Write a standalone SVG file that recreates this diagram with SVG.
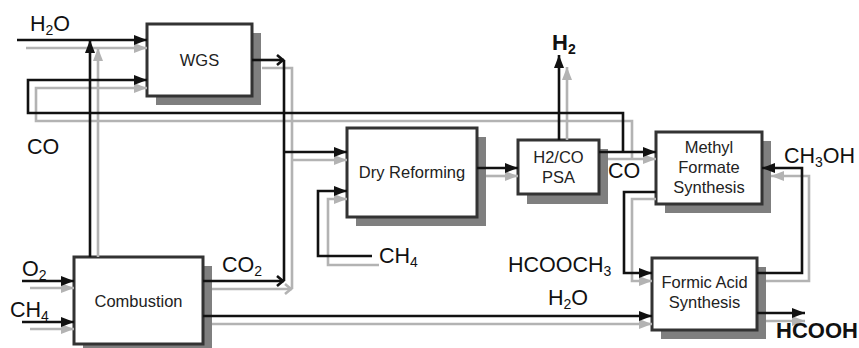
<svg xmlns="http://www.w3.org/2000/svg" width="859" height="348" viewBox="0 0 859 348">
<style>
.box{fill:#fff;stroke:#333;stroke-width:3}
.sh{fill:#7f7f7f}
.bl{fill:#222;font-family:"Liberation Sans",Arial,sans-serif;font-size:16.5px;text-anchor:middle}
.lb{fill:#111;font-family:"Liberation Sans",Arial,sans-serif;font-size:21.5px}
.bd{font-weight:bold;font-size:22px}
.k{fill:none;stroke:#111;stroke-width:2.6}
.g{fill:none;stroke:#b3b3b3;stroke-width:2.6}
.ka{marker-end:url(#ak)}
.ga{marker-end:url(#ag)}
.kc{marker-end:url(#ck)}
.gc{marker-end:url(#cg)}
</style>
<defs>
<marker id="ak" markerUnits="userSpaceOnUse" markerWidth="14" markerHeight="12" refX="13" refY="5" orient="auto"><path d="M0,0 L13,5 L0,10 z" fill="#111"/></marker>
<marker id="ag" markerUnits="userSpaceOnUse" markerWidth="14" markerHeight="12" refX="13" refY="5" orient="auto"><path d="M0,0 L13,5 L0,10 z" fill="#b3b3b3"/></marker>
<marker id="ck" markerUnits="userSpaceOnUse" markerWidth="12" markerHeight="14" refX="9" refY="6" orient="auto"><path d="M2,1 L8,6 L2,11" fill="none" stroke="#111" stroke-width="2.6"/></marker>
<marker id="cg" markerUnits="userSpaceOnUse" markerWidth="12" markerHeight="14" refX="9" refY="6" orient="auto"><path d="M2,1 L8,6 L2,11" fill="none" stroke="#b3b3b3" stroke-width="2.6"/></marker>
</defs>
<rect width="859" height="348" fill="#fff"/>
<g id="wgs"><rect class="sh" x="156" y="33" width="105" height="72"/><rect class="box" x="147" y="24" width="105" height="72"/><text class="bl" x="199.5" y="66">WGS</text></g>
<g id="dry-reforming"><rect class="sh" x="356" y="137" width="130" height="89"/><rect class="box" x="347" y="128" width="130" height="89"/><text class="bl" x="412" y="178">Dry Reforming</text></g>
<g id="psa"><rect class="sh" x="527" y="149" width="81" height="55"/><rect class="box" x="518" y="140" width="81" height="54"/><text class="bl" x="558.5" y="163">H2/CO</text><text class="bl" x="558.5" y="183">PSA</text></g>
<g id="methyl-formate"><rect class="sh" x="665" y="141" width="106" height="72"/><rect class="box" x="656" y="132" width="106" height="72"/><text class="bl" x="709" y="153">Methyl</text><text class="bl" x="709" y="173">Formate</text><text class="bl" x="709" y="193">Synthesis</text></g>
<g id="combustion"><rect class="sh" x="83" y="266" width="129" height="87"/><rect class="box" x="74" y="257" width="129" height="87"/><text class="bl" x="138.5" y="307">Combustion</text></g>
<g id="formic-acid"><rect class="sh" x="661" y="267" width="105" height="72"/><rect class="box" x="652" y="258" width="105" height="72"/><text class="bl" x="704.5" y="288">Formic Acid</text><text class="bl" x="704.5" y="308">Synthesis</text></g>
<g id="connectors">
<path class="g ga" d="M26,48 H147"/>
<path class="g ga" d="M98,257 V48"/>
<path class="g ga" d="M632,159 V121 H36 V88 H147"/>
<path class="g" d="M262,68 H292 V289"/>
<path class="g gc" d="M212,289 H292"/>
<path class="g ga" d="M292,160 H347"/>
<path class="g ga" d="M379,265 H328 V199 H347"/>
<path class="g ga" d="M486,176 H518"/>
<path class="g ga" d="M567,140 V67"/>
<path class="g ga" d="M608,159 H656"/>
<path class="g ga" d="M656,199 H632 V281 H652"/>
<path class="g ga" d="M766,281 H809 V176 H771"/>
<path class="g ga" d="M766,321 H805"/>
<path class="g ga" d="M212,324 H652"/>
<path class="g ga" d="M30,288 H74"/>
<path class="g ga" d="M30,329 H74"/>
<path class="k ka" d="M17,40 H147"/>
<path class="k ka" d="M90,257 V40"/>
<path class="k ka" d="M623,152 V113 H28 V80 H147"/>
<path class="k kc" d="M252,60 H284"/>
<path class="k" d="M284,60 V281"/>
<path class="k kc" d="M203,281 H284"/>
<path class="k ka" d="M284,152 H347"/>
<path class="k ka" d="M372,256 H318 V191 H347"/>
<path class="k ka" d="M477,168 H518"/>
<path class="k ka" d="M559,140 V55"/>
<path class="k ka" d="M599,152 H656"/>
<path class="k ka" d="M656,192 H624 V273 H652"/>
<path class="k ka" d="M757,273 H802 V168 H762"/>
<path class="k ka" d="M757,313 H805"/>
<path class="k ka" d="M203,316 H652"/>
<path class="k ka" d="M22,281 H74"/>
<path class="k ka" d="M22,322 H74"/>
</g>
<g id="labels">
<text class="lb" x="30" y="31">H<tspan font-size="14" dy="4">2</tspan><tspan dy="-4">O</tspan></text>
<text class="lb" x="27" y="154">CO</text>
<text class="lb" x="22" y="276">O<tspan font-size="14" dy="4">2</tspan></text>
<text class="lb" x="10" y="317">CH<tspan font-size="14" dy="4">4</tspan></text>
<text class="lb" x="222" y="272">CO<tspan font-size="14" dy="4">2</tspan></text>
<text class="lb" x="379" y="263">CH<tspan font-size="14" dy="4">4</tspan></text>
<text class="lb" x="508" y="272">HCOOCH<tspan font-size="14" dy="4">3</tspan></text>
<text class="lb" x="548" y="305">H<tspan font-size="14" dy="4">2</tspan><tspan dy="-4">O</tspan></text>
<text class="lb" x="608" y="178">CO</text>
<text class="lb" x="784" y="163">CH<tspan font-size="14" dy="4">3</tspan><tspan dy="-4">OH</tspan></text>
<text class="lb bd" x="552" y="50">H<tspan font-size="14" dy="4">2</tspan></text>
<text class="lb bd" x="776" y="338">HCOOH</text>
</g>
</svg>
